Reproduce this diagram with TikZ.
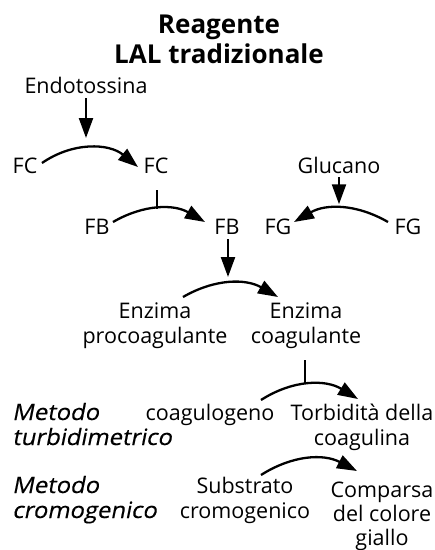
\documentclass[tikz,border=0pt]{standalone}
\usepackage{fontspec}
\setmainfont{Open Sans}
\newfontfamily\oblfont[FakeSlant=0.2,FakeStretch=1.06,FakeBold=0.4]{Open Sans}
\usetikzlibrary{arrows.meta,calc}
\begin{document}
\begin{tikzpicture}[x=1pt,y=-1pt,
  lbl/.style={inner sep=2pt, anchor=base, font=\fontsize{21.5}{25}\selectfont, align=center},
  meth/.style={inner sep=0pt, anchor=base west, font=\fontsize{22.5}{25}\selectfont\oblfont, align=left},
  ttl/.style={inner sep=0pt, anchor=base, font=\fontsize{26}{30}\selectfont\bfseries, align=center},
  arr/.style={line width=2.3pt, -{Triangle[length=20pt,width=14pt]}},
  bar/.style={line width=2.3pt}]
\useasboundingbox (0,0) rectangle (435,550);
% nodes (base anchor = baseline of the last line)
\node[ttl] (title) at (219,63) {Reagente\\LAL tradizionale};
\node[lbl] (endo) at (86,93) {Endotossina};
\node[lbl] (fc1) at (25,173) {FC};
\node[lbl] (fc2) at (156,173) {FC};
\node[lbl] (glu) at (339,173) {Glucano};
\node[lbl] (fb1) at (97,234) {FB};
\node[lbl] (fb2) at (227,234) {FB};
\node[lbl] (fg1) at (278,234) {FG};
\node[lbl] (fg2) at (408,234) {FG};
\node[lbl] (ep) at (155,343) {Enzima\\procoagulante};
\node[lbl] (ec) at (306,343) {Enzima\\coagulante};
\node[meth] (mt) at (12,445) {Metodo\\turbidimetrico};
\node[lbl] (cg) at (210,420) {coagulogeno};
\node[lbl] (tb) at (362,445) {Torbidità della\\coagulina};
\node[meth] (mc) at (12,518) {Metodo\\cromogenico};
\node[lbl] (sc) at (245,518) {Substrato\\cromogenico};
\node[lbl, font=\fontsize{21.5}{24}\selectfont] (cp) at (382,545) {Comparsa\\del colore\\giallo};
% connector end points
\coordinate (e0) at ($(endo.base)+(0,5)$);
\coordinate (e1) at ($(endo.base)+(0,45)$);
\coordinate (c0) at ($(fc1.base)+(17,-10)$);
\coordinate (c1) at ($(fc2.base)+(-18,-6)$);
\coordinate (cbar) at ($(fc2.base)+(1,17)$);
\coordinate (b0) at ($(fb1.base)+(16,-12)$);
\coordinate (b1) at ($(fb2.base)+(-22,-12)$);
\coordinate (g0) at ($(fg2.base)+(-20,-12)$);
\coordinate (g1) at ($(fg1.base)+(16,-12)$);
\coordinate (gl) at ($(glu.base)+(0,4)$);
\coordinate (f0) at ($(fb2.base)+(1,5)$);
\coordinate (f1) at ($(fb2.base)+(1,43)$);
\coordinate (z0) at ($(ep.base)+(28,-46)$);
\coordinate (z1) at ($(ec.base)+(-28,-46)$);
\coordinate (zbar) at ($(ec.base)+(-1,17)$);
\coordinate (t0) at ($(cg.base)+(51,-20)$);
\coordinate (t1) at ($(tb.base)+(-4,-46)$);
\coordinate (s0) at ($(sc.base)+(16,-43)$);
\coordinate (s1) at ($(cp.base)+(-25,-74)$);
% connectors
\draw[arr] (e0) -- (e1);
\draw[arr] (c0) to[bend left=37] (c1);
\draw[arr] (b0) to[bend left=30] coordinate[pos=0.5] (m1) (b1);
\draw[bar] (cbar) -- (cbar |- m1);
\draw[arr] (g0) to[bend right=30] coordinate[pos=0.5] (m2) (g1);
\draw[arr, shorten >=4pt] (gl) -- (gl |- m2);
\draw[arr] (f0) -- (f1);
\draw[arr] (z0) to[bend left=30] (z1);
\draw[arr] (t0) to[bend left=32] coordinate[pos=0.5] (m3) (t1);
\draw[bar] (zbar) -- (zbar |- m3);
\draw[arr] (s0) to[bend left=30] (s1);
\end{tikzpicture}
\end{document}
